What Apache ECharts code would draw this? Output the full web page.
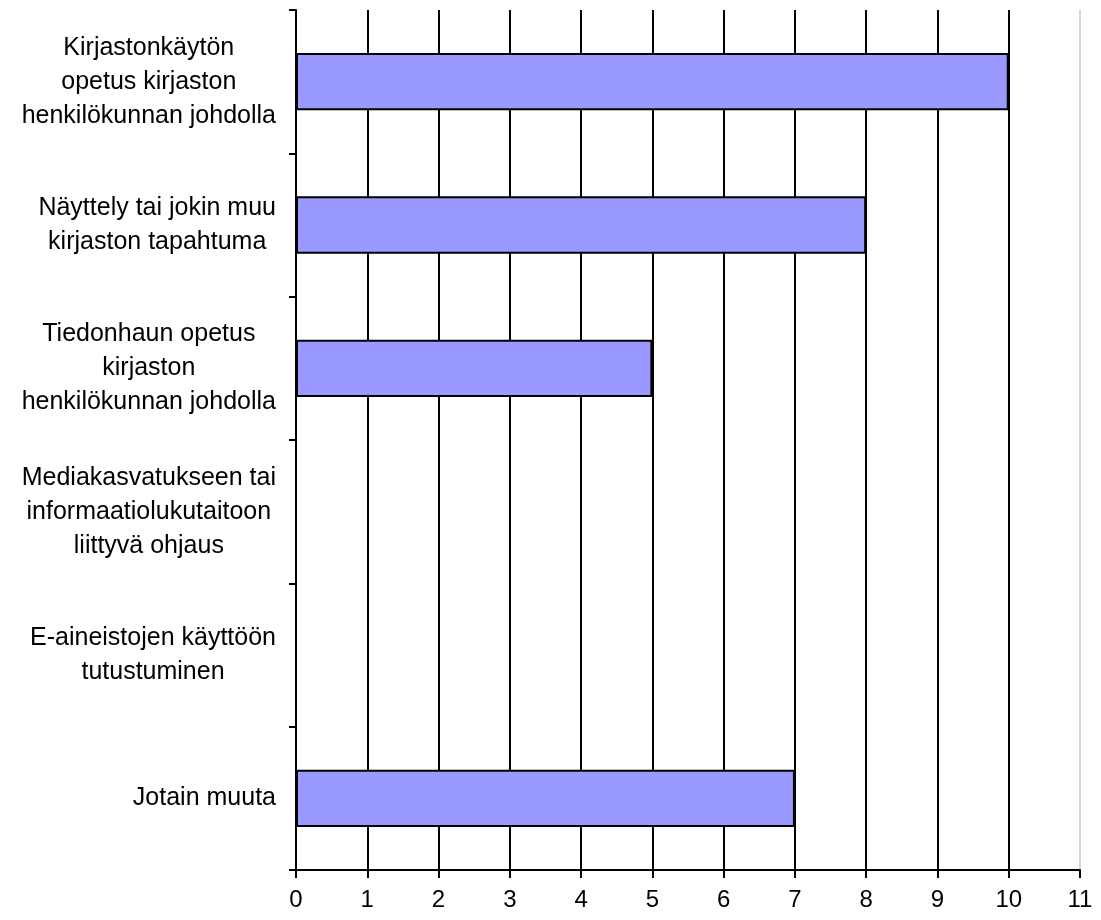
<!DOCTYPE html>
<html>
<head>
<meta charset="utf-8">
<script src="https://cdn.jsdelivr.net/npm/echarts@6/dist/echarts.min.js"></script>
<style>
html,body{margin:0;padding:0;background:#fff;}
#chart{width:1101px;height:920px;}
</style>
</head>
<body>
<div id="chart"></div>
<script>
const categories = [
  'Kirjastonkäytön\nopetus kirjaston\nhenkilökunnan johdolla',
  'Näyttely tai jokin muu\nkirjaston tapahtuma',
  'Tiedonhaun opetus\nkirjaston\nhenkilökunnan johdolla',
  'Mediakasvatukseen tai\ninformaatiolukutaitoon\nliittyvä ohjaus',
  'E-aineistojen käyttöön\ntutustuminen',
  'Jotain muuta'
];
const values = [10, 8, 5, 0, 0, 7];
const xTicks = [0, 1, 2, 3, 4, 5, 6, 7, 8, 9, 10, 11];

const chart = echarts.init(document.getElementById('chart'));
const font = 'Liberation Sans, Arial, sans-serif';
const gridColors = xTicks.map((t, i) => i === xTicks.length - 1 ? '#d8d8d8' : '#000');
chart.setOption({
  animation: false,
  backgroundColor: '#fff',
  grid: { left: 296, right: 21, top: 10, bottom: 50 },
  xAxis: {
    type: 'value',
    min: xTicks[0],
    max: xTicks[xTicks.length - 1],
    interval: 1,
    axisLine: { show: true, lineStyle: { color: '#000', width: 2 } },
    axisTick: { show: true, length: 8, lineStyle: { color: '#000', width: 2 } },
    axisLabel: { color: '#000', fontSize: 24, fontFamily: font, margin: 18 },
    splitLine: { show: true, lineStyle: { color: gridColors, width: 2 } }
  },
  yAxis: {
    type: 'category',
    data: categories,
    inverse: true,
    axisLine: { show: true, lineStyle: { color: '#000', width: 2 } },
    axisTick: { show: true, length: 7, lineStyle: { color: '#000', width: 2 } },
    axisLabel: {
      color: '#000',
      fontSize: 25,
      fontFamily: font,
      margin: 20,
      align: 'right',
      formatter: v => v.split('\n').map(l => '{c|' + l + '}').join('\n'),
      rich: { c: { align: 'center', fontSize: 25, fontFamily: font, lineHeight: 34, color: '#000' } }
    }
  },
  series: [{
    type: 'bar',
    data: values,
    barWidth: '40%',
    itemStyle: { color: '#9999FF', borderColor: '#000', borderWidth: 2 }
  }]
});
</script>
</body>
</html>
